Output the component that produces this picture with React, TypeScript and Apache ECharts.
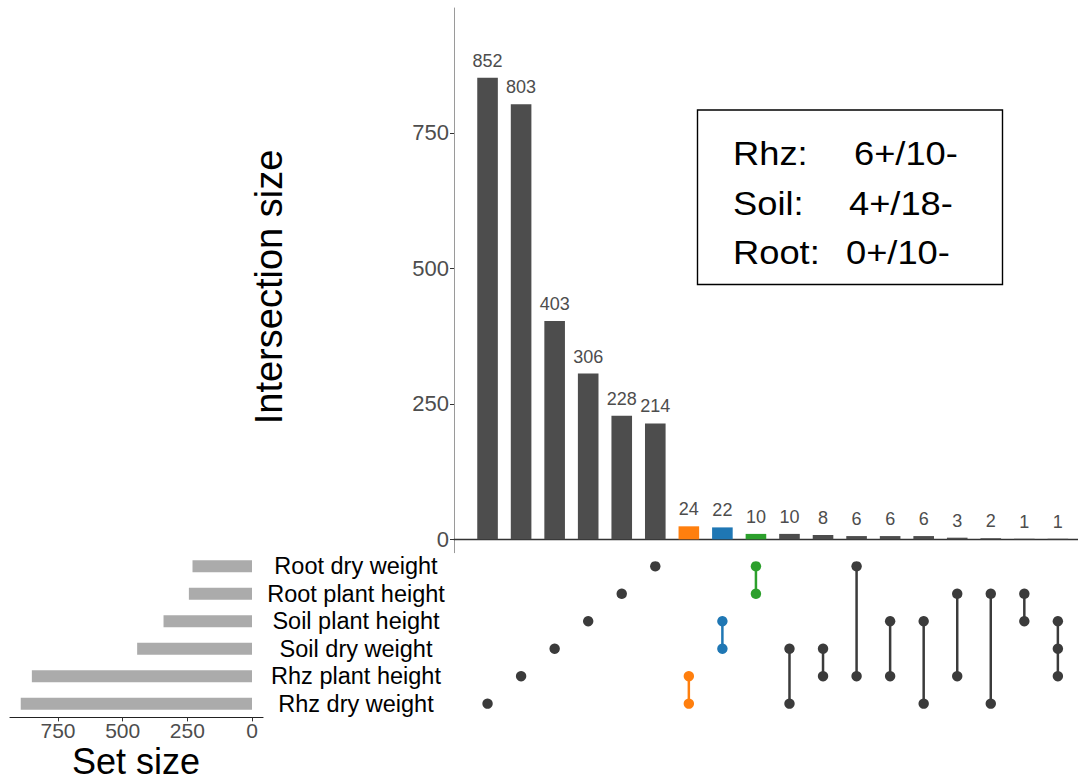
import React, { useEffect, useRef } from "react";
import * as echarts from "echarts";

// Sets, top row first in the membership matrix
const setNames = [
  "Root dry weight",
  "Root plant height",
  "Soil plant height",
  "Soil dry weight",
  "Rhz plant height",
  "Rhz dry weight",
];
const setSizes = [230, 244, 342, 444, 851, 894];

// Intersections, largest first; members are row indexes into setNames
const intersectionSizes = [852, 803, 403, 306, 228, 214, 24, 22, 10, 10, 8, 6, 6, 6, 3, 2, 1, 1];
const intersectionMembers = [
  [5], [4], [3], [2], [1], [0],
  [4, 5], [2, 3], [0, 1], [3, 5], [3, 4], [0, 4], [2, 4], [2, 5], [1, 4], [1, 5], [1, 2], [2, 3, 4],
];
const highlightColors: Record<number, string> = { 6: "#ff7f0e", 7: "#1f77b4", 8: "#2ca02c" };

const intersectionTicks = [0, 250, 500, 750];
const setSizeTicks = [0, 250, 500, 750];

const summaryLabels = ["Rhz:", "Soil:", "Root:"];
const summaryCounts = ["6+/10-", "4+/18-", "0+/10-"];

const FONT = "'Liberation Sans', Arial, Helvetica, sans-serif";
const BAR_COLOR = "#4d4d4d";
const DOT_COLOR = "#3b3b3b";
const SET_BAR_COLOR = "#ababab";

export default function App() {
  const ref = useRef<HTMLDivElement>(null);

  useEffect(() => {
    if (!ref.current) return;
    const chart = echarts.init(ref.current, undefined, { renderer: "svg" });

    const colorOf = (i: number, base: string) => highlightColors[i] ?? base;

    const summaryRowsY = [154, 204, 252.5];
    const summaryCountX = [854, 849, 846];
    const summaryText: any[] = [];
    summaryLabels.forEach((lab, i) => {
      summaryText.push({
        type: "text",
        x: 733,
        y: summaryRowsY[i],
        scaleX: 1.1,
        style: { text: lab, fontSize: 33, fontFamily: FONT, fill: "#000", textAlign: "left", textVerticalAlign: "middle" },
      });
      summaryText.push({
        type: "text",
        x: summaryCountX[i],
        y: summaryRowsY[i],
        scaleX: 1.1,
        style: { text: summaryCounts[i], fontSize: 33, fontFamily: FONT, fill: "#000", textAlign: "left", textVerticalAlign: "middle" },
      });
    });

    const option: any = {
      animation: false,
      backgroundColor: "#ffffff",
      textStyle: { fontFamily: FONT },
      grid: [
        { left: 454, top: 8, width: 624, height: 544.7 },
        { left: 454, top: 552.6, width: 624, height: 164.8 },
        { left: 10, top: 552.6, width: 253, height: 164.8 },
      ],
      xAxis: [
        {
          gridIndex: 0,
          type: "value",
          min: 0,
          max: 18.6,
          axisLine: { show: true, onZero: true, lineStyle: { color: "#333333", width: 1.4 } },
          axisTick: { show: false },
          axisLabel: { show: false },
          splitLine: { show: false },
        },
        { gridIndex: 1, type: "value", min: 0, max: 18.6, show: false },
        {
          gridIndex: 2,
          type: "value",
          inverse: true,
          min: -42.5,
          max: 935.5,
          position: "bottom",
          axisLine: { show: true, onZero: false, lineStyle: { color: "#222222", width: 1.2 } },
          axisTick: { show: true, length: 4, customValues: setSizeTicks, lineStyle: { color: "#333333" } },
          axisLabel: { customValues: setSizeTicks, fontSize: 21, color: "#4d4d4d", margin: 3, fontFamily: FONT },
          splitLine: { show: false },
        },
      ],
      yAxis: [
        {
          gridIndex: 0,
          type: "value",
          min: -24.7,
          max: 980.7,
          axisLine: { show: true, onZero: false, lineStyle: { color: "#9a9a9a", width: 1 } },
          axisTick: { show: true, length: 4, customValues: intersectionTicks, lineStyle: { color: "#333333" } },
          axisLabel: { customValues: intersectionTicks, fontSize: 22, color: "#4d4d4d", margin: 5, fontFamily: FONT },
          splitLine: { show: false },
        },
        {
          gridIndex: 1,
          type: "category",
          data: setNames,
          inverse: true,
          axisLine: { show: false },
          axisTick: { show: false },
          axisLabel: { interval: 0, fontSize: 23.5, color: "#000000", align: "center", margin: 98, fontFamily: FONT },
        },
        { gridIndex: 2, type: "category", data: setNames, inverse: true, show: false },
      ],
      series: [
        {
          type: "bar",
          xAxisIndex: 0,
          yAxisIndex: 0,
          barWidth: 20.6,
          data: intersectionSizes.map((v, i) => ({
            value: [i + 1, v],
            itemStyle: { color: colorOf(i, BAR_COLOR) },
          })),
          label: {
            show: true,
            position: "top",
            distance: 8,
            fontSize: 18,
            color: "#4d4d4d",
            fontFamily: FONT,
            formatter: (p: any) => String(p.value[1]),
          },
        },
        {
          type: "custom",
          xAxisIndex: 1,
          yAxisIndex: 1,
          data: intersectionMembers.map((_, i) => [i + 1, 0]),
          encode: { x: 0, y: 1 },
          renderItem: (params: any, api: any) => {
            const col = params.dataIndex;
            const rows = intersectionMembers[col];
            const color = colorOf(col, DOT_COLOR);
            const pts = rows.map((r) => api.coord([col + 1, r]));
            const ys = pts.map((p: number[]) => p[1]);
            const children: any[] = [];
            if (rows.length > 1) {
              children.push({
                type: "line",
                shape: { x1: pts[0][0], y1: Math.min(...ys), x2: pts[0][0], y2: Math.max(...ys) },
                style: { stroke: color, lineWidth: 2.5 },
              });
            }
            pts.forEach((p: number[]) =>
              children.push({ type: "circle", shape: { cx: p[0], cy: p[1], r: 5.2 }, style: { fill: color } })
            );
            return { type: "group", children };
          },
        },
        {
          type: "bar",
          xAxisIndex: 2,
          yAxisIndex: 2,
          barWidth: 12,
          data: setSizes,
          itemStyle: { color: SET_BAR_COLOR },
        },
      ],
      graphic: [
        {
          type: "rect",
          shape: { x: 697.5, y: 110, width: 305, height: 174.5 },
          style: { fill: "#ffffff", stroke: "#000000", lineWidth: 1.4 },
        },
        ...summaryText,
        {
          type: "text",
          x: 269,
          y: 287,
          rotation: Math.PI / 2,
          style: {
            text: "Intersection size",
            fontSize: 38,
            fontFamily: FONT,
            fill: "#000",
            textAlign: "center",
            textVerticalAlign: "middle",
          },
        },
        {
          type: "text",
          x: 136,
          y: 761,
          style: {
            text: "Set size",
            fontSize: 36,
            fontFamily: FONT,
            fill: "#000",
            textAlign: "center",
            textVerticalAlign: "middle",
          },
        },
      ],
    };

    chart.setOption(option);
    return () => chart.dispose();
  }, []);

  return (
    <div
      ref={ref}
      style={{ position: "fixed", left: 0, top: 0, width: 1078, height: 780, background: "#fff" }}
    />
  );
}
